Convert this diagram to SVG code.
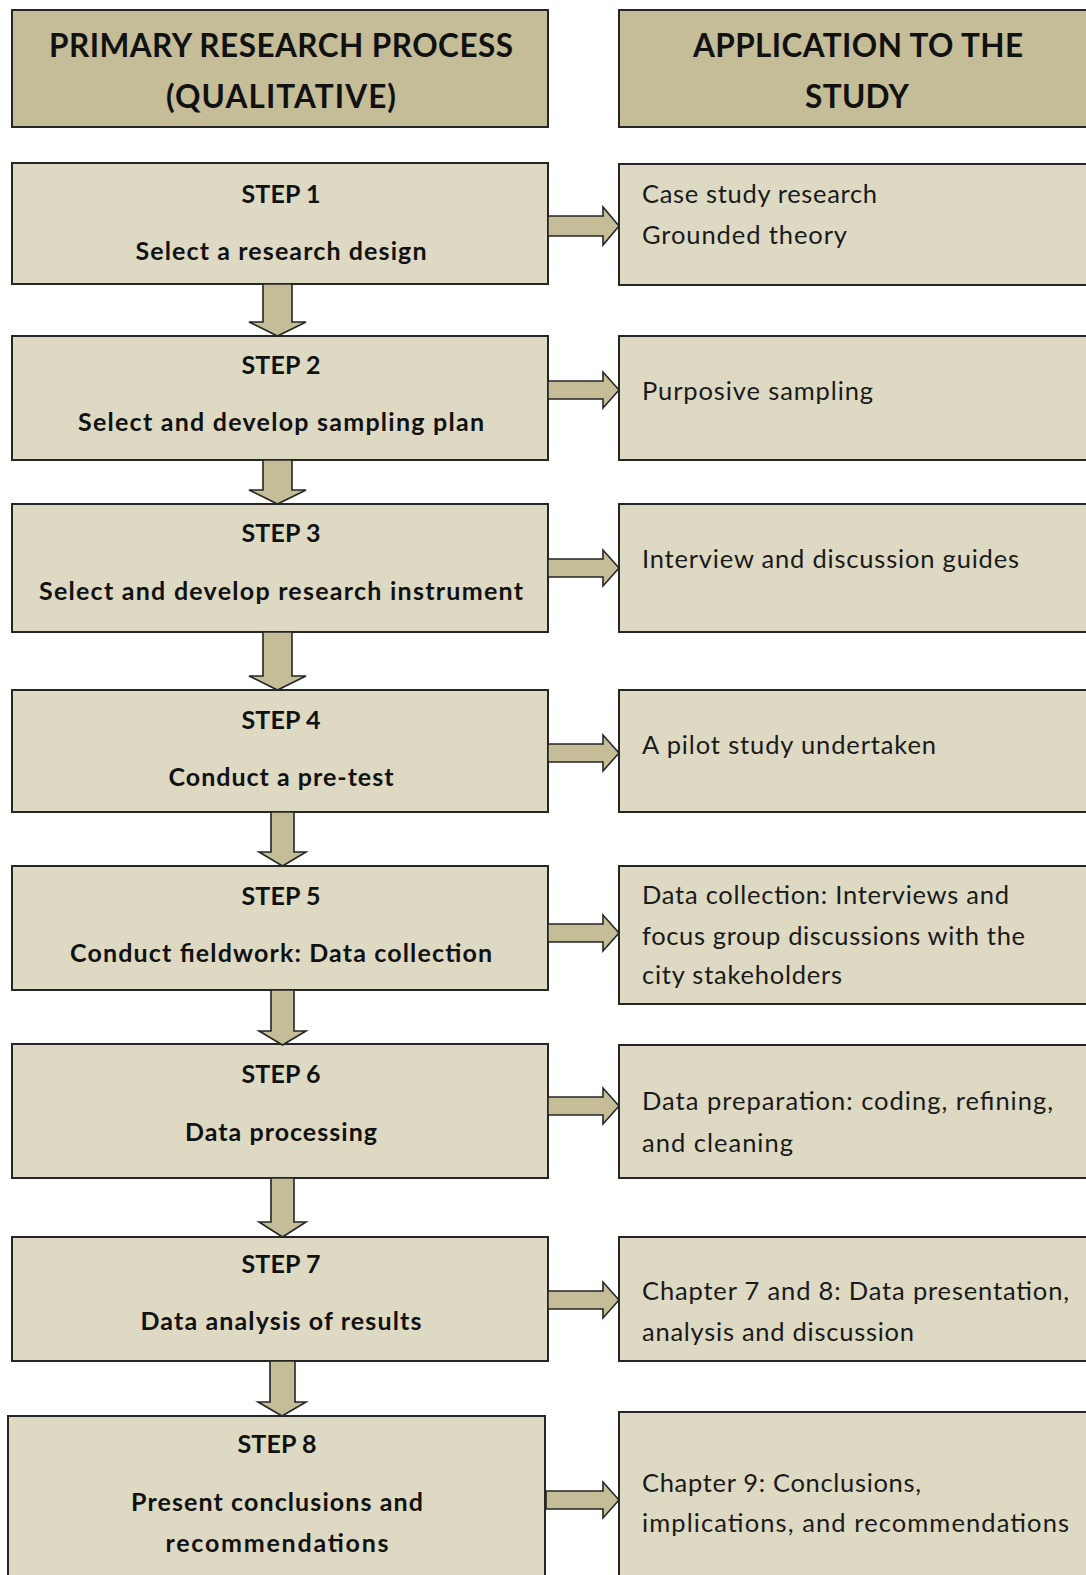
<svg xmlns="http://www.w3.org/2000/svg" width="1086" height="1575" viewBox="0 0 1086 1575">
<style>
.hdr{fill:#c4bd97;stroke:#262626;stroke-width:2}
.box{fill:#ddd9c3;stroke:#262626;stroke-width:2}
.arr{fill:#c4bd97;stroke:#262626;stroke-width:1.6;stroke-linejoin:miter}
.ht{font-family:Lato,"Liberation Sans",sans-serif;font-weight:bold;font-size:31.5px;fill:#111;text-anchor:middle}
.st{font-family:Lato,"Liberation Sans",sans-serif;font-weight:bold;font-size:25px;fill:#111;text-anchor:middle}
.rt{font-family:Lato,"Liberation Sans",sans-serif;font-size:25.5px;fill:#1a1a1a}
</style>
<rect width="1086" height="1575" fill="#ffffff"/>
<g id="header-left">
<rect class="hdr" x="12" y="10" width="536" height="117"/>
<text class="ht" x="281" y="57" textLength="464">PRIMARY RESEARCH PROCESS</text>
<text class="ht" x="281" y="108" textLength="230">(QUALITATIVE)</text>
</g>
<g id="header-right">
<rect class="hdr" x="619" y="10" width="480" height="117"/>
<text class="ht" x="858" y="57" textLength="330">APPLICATION TO THE</text>
<text class="ht" x="857" y="108" textLength="104">STUDY</text>
</g>
<g id="step1">
<rect class="box" x="12" y="163" width="536" height="121"/>
<text class="st" x="281" y="203" textLength="79">STEP 1</text>
<text class="st" x="281" y="260" textLength="291">Select a research design</text>
</g>
<g id="step2">
<rect class="box" x="12" y="336" width="536" height="124"/>
<text class="st" x="281" y="374" textLength="79">STEP 2</text>
<text class="st" x="281" y="431" textLength="406">Select and develop sampling plan</text>
</g>
<g id="step3">
<rect class="box" x="12" y="504" width="536" height="128"/>
<text class="st" x="281" y="542" textLength="79">STEP 3</text>
<text class="st" x="281" y="600" textLength="484">Select and develop research instrument</text>
</g>
<g id="step4">
<rect class="box" x="12" y="690" width="536" height="122"/>
<text class="st" x="281" y="729" textLength="79">STEP 4</text>
<text class="st" x="281" y="786" textLength="225">Conduct a pre-test</text>
</g>
<g id="step5">
<rect class="box" x="12" y="866" width="536" height="124"/>
<text class="st" x="281" y="905" textLength="79">STEP 5</text>
<text class="st" x="281" y="962" textLength="422">Conduct fieldwork: Data collection</text>
</g>
<g id="step6">
<rect class="box" x="12" y="1044" width="536" height="134"/>
<text class="st" x="281" y="1083" textLength="79">STEP 6</text>
<text class="st" x="281" y="1141" textLength="192">Data processing</text>
</g>
<g id="step7">
<rect class="box" x="12" y="1237" width="536" height="124"/>
<text class="st" x="281" y="1273" textLength="79">STEP 7</text>
<text class="st" x="281" y="1330" textLength="281">Data analysis of results</text>
</g>
<g id="step8">
<rect class="box" x="8" y="1416" width="537" height="170"/>
<text class="st" x="277" y="1453" textLength="79">STEP 8</text>
<text class="st" x="277" y="1511" textLength="292">Present conclusions and</text>
<text class="st" x="277" y="1552" textLength="223">recommendations</text>
</g>
<g id="app1">
<rect class="box" x="619" y="164" width="480" height="121"/>
<text class="rt" x="642" y="203" textLength="235">Case study research</text>
<text class="rt" x="642" y="244" textLength="205">Grounded theory</text>
</g>
<g id="app2">
<rect class="box" x="619" y="336" width="480" height="124"/>
<text class="rt" x="642" y="400" textLength="231">Purposive sampling</text>
</g>
<g id="app3">
<rect class="box" x="619" y="504" width="480" height="128"/>
<text class="rt" x="642" y="568" textLength="377">Interview and discussion guides</text>
</g>
<g id="app4">
<rect class="box" x="619" y="690" width="480" height="122"/>
<text class="rt" x="642" y="754" textLength="294">A pilot study undertaken</text>
</g>
<g id="app5">
<rect class="box" x="619" y="866" width="480" height="138"/>
<text class="rt" x="642" y="904" textLength="367">Data collection: Interviews and</text>
<text class="rt" x="642" y="945" textLength="383">focus group discussions with the</text>
<text class="rt" x="642" y="984" textLength="200">city stakeholders</text>
</g>
<g id="app6">
<rect class="box" x="619" y="1045" width="480" height="133"/>
<text class="rt" x="642" y="1110" textLength="411">Data preparation: coding, refining,</text>
<text class="rt" x="642" y="1152" textLength="151">and cleaning</text>
</g>
<g id="app7">
<rect class="box" x="619" y="1237" width="480" height="124"/>
<text class="rt" x="642" y="1300" textLength="427">Chapter 7 and 8: Data presentation,</text>
<text class="rt" x="642" y="1341" textLength="272">analysis and discussion</text>
</g>
<g id="app8">
<rect class="box" x="619" y="1412" width="480" height="174"/>
<text class="rt" x="642" y="1492" textLength="279">Chapter 9: Conclusions,</text>
<text class="rt" x="642" y="1532" textLength="427">implications, and recommendations</text>
</g>
<g id="connectors">
<polygon class="arr" points="263,284 292,284 292,322 306,322 277.5,336 249,322 263,322"/>
<polygon class="arr" points="263,460 292,460 292,490 306,490 277.5,504 249,490 263,490"/>
<polygon class="arr" points="263,632 292,632 292,676 306,676 277.5,690 249,676 263,676"/>
<polygon class="arr" points="271,812 294,812 294,852 306,852 282.5,866 259,852 271,852"/>
<polygon class="arr" points="271,990 294,990 294,1031 306,1031 282.5,1045 259,1031 271,1031"/>
<polygon class="arr" points="271,1178 294,1178 294,1222 306,1222 282.5,1237 259,1222 271,1222"/>
<polygon class="arr" points="270,1361 295,1361 295,1402 306,1402 282,1416 258,1402 270,1402"/>
<polygon class="arr" points="548,216 603,216 603,207 619,226 603,245 603,236 548,236"/>
<polygon class="arr" points="548,381 603,381 603,372 619,390 603,408 603,399 548,399"/>
<polygon class="arr" points="548,559 603,559 603,550 619,568 603,586 603,577 548,577"/>
<polygon class="arr" points="548,744 603,744 603,735 619,753 603,771 603,762 548,762"/>
<polygon class="arr" points="548,924 603,924 603,915 619,933 603,951 603,942 548,942"/>
<polygon class="arr" points="548,1097 603,1097 603,1088 619,1106 603,1124 603,1115 548,1115"/>
<polygon class="arr" points="548,1291 603,1291 603,1282 619,1300 603,1318 603,1309 548,1309"/>
<polygon class="arr" points="546,1491 603,1491 603,1482 619,1500 603,1518 603,1509 546,1509"/>
</g>
</svg>
